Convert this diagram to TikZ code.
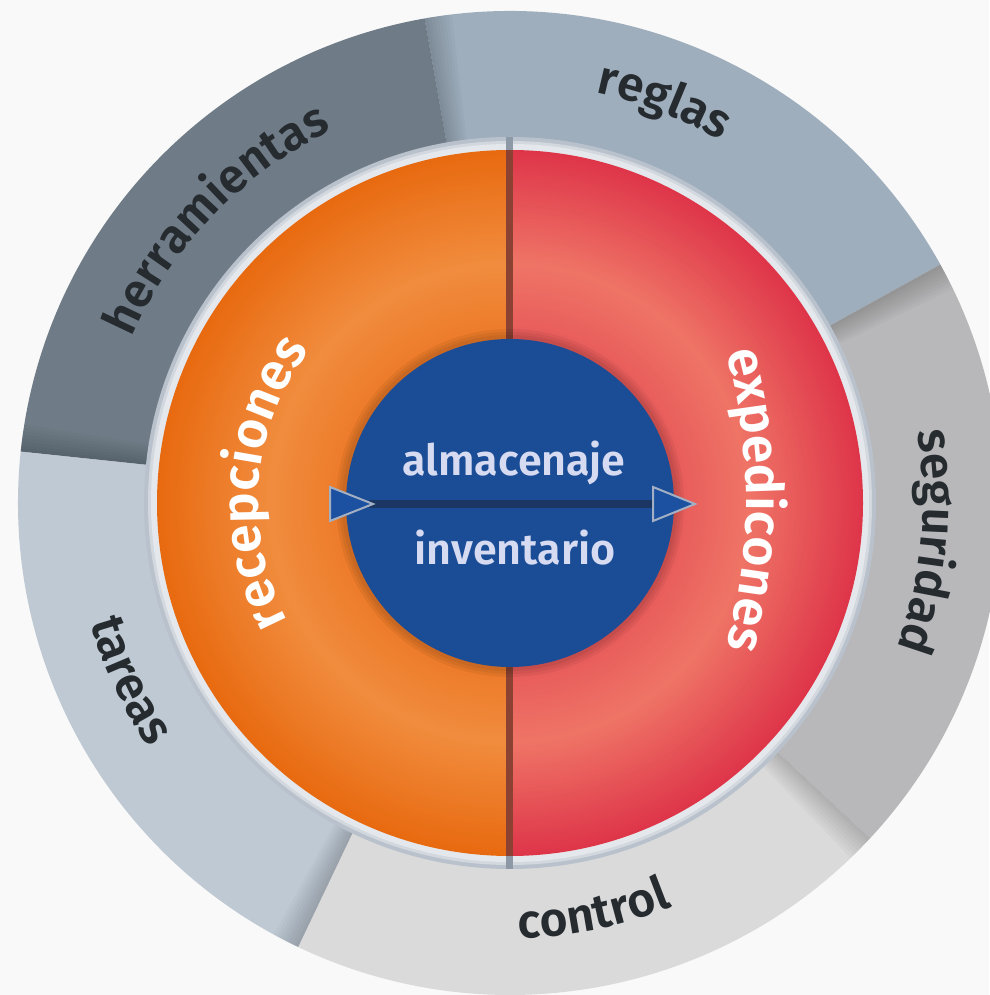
\documentclass[tikz,border=0pt]{standalone}
\usepackage{fontspec}
\usetikzlibrary{calc,decorations.text}
\IfFontExistsTF{Fira Sans SemiBold}{\newfontfamily\lblfont{Fira Sans SemiBold}}{\newfontfamily\lblfont{Fira Sans}[FakeBold=1.5]}
\definecolor{bgc}{HTML}{F9F9F9}
\definecolor{cReg}{HTML}{9EAEBD}
\definecolor{cHer}{HTML}{6F7C87}
\definecolor{cTar}{HTML}{BFC9D3}
\definecolor{cCon}{HTML}{DADADA}
\definecolor{cSeg}{HTML}{B8B8BA}
\definecolor{ringA}{HTML}{B9C2CC}
\definecolor{ringB}{HTML}{D2D8DE}
\definecolor{ringC}{HTML}{E4E8EC}
\definecolor{orD}{HTML}{E86A10}
\definecolor{orM}{HTML}{EC7A28}
\definecolor{orL}{HTML}{F18C3E}
\definecolor{rdD}{HTML}{DE3549}
\definecolor{rdM}{HTML}{E75A5A}
\definecolor{rdL}{HTML}{EF7466}
\definecolor{divc}{HTML}{8B4233}
\definecolor{divg}{HTML}{8D99A6}
\definecolor{blueC}{HTML}{1B4C96}
\definecolor{navy}{HTML}{1B3662}
\definecolor{triF}{HTML}{1C50A0}
\definecolor{triD}{HTML}{A3B0C3}
\definecolor{lav}{HTML}{D6DBF1}
\definecolor{txtdark}{HTML}{262B30}
\newcommand\outerfmt{\lblfont\fontsize{48}{48}\selectfont\color{txtdark}}
\newcommand\midfmt{\lblfont\fontsize{52}{52}\selectfont\color{white}}
\tikzset{
  ringlabel/.style={decorate,decoration={text along path,text align=center,text={|\outerfmt|#1}}},
  midlabel/.style={decorate,decoration={text along path,text align=center,text={|\midfmt|#1}}},
  cenlbl/.style={font=\lblfont\fontsize{43}{43}\selectfont,text=lav,inner sep=0pt,anchor=base},
  arrline/.style={draw=navy,line width=8},
  tri/.style={fill=triF,draw=triD,line width=2,line join=miter}
}
\begin{document}
\begin{tikzpicture}[x=1pt,y=1pt]
\useasboundingbox (0,0) rectangle (989,995);
\fill[bgc] (0,0) rectangle (989,995);
\coordinate (C) at (510,492);
\coordinate (E) at (188,495);
% outer ring segments
\foreach \a/\b/\c in {29/100/cReg,100/174/cHer,174/244.5/cTar,244.5/317/cCon,317/389/cSeg}{
  \fill[\c] (C) -- ($(C)+(\a:492)$) arc[start angle=\a,end angle=\b,radius=492] -- cycle;
}
% soft shadows at segment boundaries
\foreach \b in {100,174,244.5,317,389}{
  \foreach \i in {1,...,8}{
    \fill[black,opacity=0.025] (C) -- ($(C)+(\b-0.4*\i:492)$) arc[start angle=\b-0.4*\i,end angle=\b,radius=492] -- cycle;
  }
}
% light ring
\fill[ringA] (C) circle[radius=366];
\fill[ringB] (C) circle[radius=362];
\fill[ringC] (C) circle[radius=359];
% middle disk halves (radial gradients)
\begin{scope}
  \clip ($(C)+(-360,-360)$) rectangle ($(C)+(0,360)$);
  \foreach \r in {353,351,...,241}{
    \pgfmathtruncatemacro\p{(\r-240)/113*100}
    \fill[orD!\p!orL] (C) circle[radius=\r];
  }
  \foreach \r in {240,238,...,164}{
    \pgfmathtruncatemacro\p{(240-\r)/76*100}
    \fill[orM!\p!orL] (C) circle[radius=\r];
  }
\end{scope}
\begin{scope}
  \clip ($(C)+(0,-360)$) rectangle ($(C)+(360,360)$);
  \foreach \r in {353,351,...,241}{
    \pgfmathtruncatemacro\p{(\r-240)/113*100}
    \fill[rdD!\p!rdL] (C) circle[radius=\r];
  }
  \foreach \r in {240,238,...,164}{
    \pgfmathtruncatemacro\p{(240-\r)/76*100}
    \fill[rdM!\p!rdL] (C) circle[radius=\r];
  }
\end{scope}
% divider
\fill[divg] ($(C)+(-4,-366)$) rectangle ($(C)+(3,366)$);
\fill[divc] ($(C)+(-4,-353)$) rectangle ($(C)+(3,353)$);
% blue circle with soft halo
\foreach \r in {174,171,168}{\fill[black,opacity=0.05] (C) circle[radius=\r];}
\fill[blueC] (C) circle[radius=164];
% arrow
\coordinate (aL) at ($(C)+(-137,-1)$);
\coordinate (aR) at ($(C)+(143,-1)$);
\draw[arrline] ($(aL)+(-4,0)$) -- (aR);
\draw[tri] ($(aL)+(-43,17)$) -- (aL) -- ($(aL)+(-43,-17)$) -- cycle;
\draw[tri] ($(aR)+(0,17)$) -- ($(aR)+(42,0)$) -- ($(aR)+(0,-17)$) -- cycle;
% centre texts
\node[cenlbl] (alm) at (514,519) {almacenaje};
\node[cenlbl] (inv) at (515,430) {inventario};
% middle labels
\path[midlabel={recepciones}] ($(C)+(225.3:252)$) arc[start angle=225.3,end angle=125.3,radius=252];
\path[midlabel={expedicones}] ($(E)+(25:558)$) arc[start angle=25,end angle=-25,radius=558];
% outer labels
\path[ringlabel={herramientas}] ($(C)+(191:413)$) arc[start angle=191,end angle=81,radius=413];
\path[ringlabel={reglas}] ($(C)+(109:419)$) arc[start angle=109,end angle=29,radius=419];
\path[ringlabel={seguridad}] ($(C)+(34.7:413)$) arc[start angle=34.7,end angle=-45.3,radius=413];
\path[ringlabel={control}] ($(C)+(241.5:435)$) arc[start angle=241.5,end angle=321.5,radius=435];
\path[ringlabel={tareas}] ($(C)+(165:436)$) arc[start angle=165,end angle=245,radius=436];
\end{tikzpicture}
\end{document}
